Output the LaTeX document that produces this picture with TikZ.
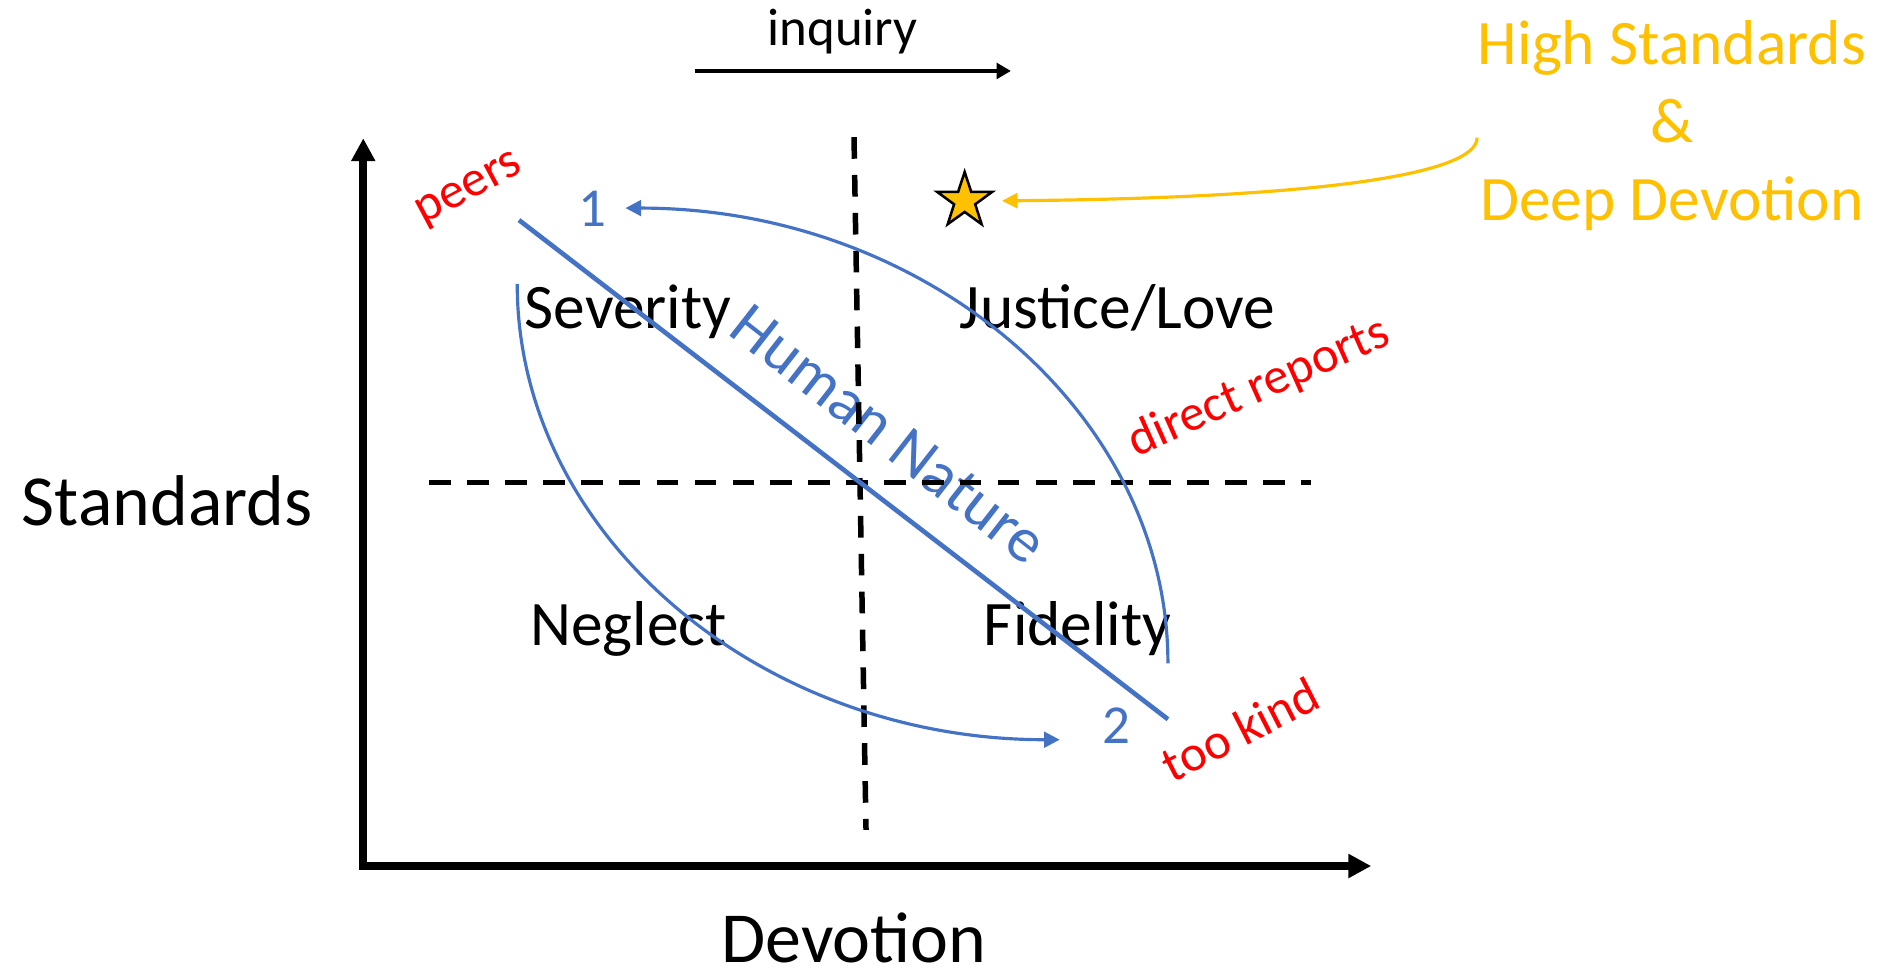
\documentclass[tikz,border=0pt]{standalone}
\usepackage{fontspec}
\setmainfont{Carlito}
\usepackage{tikz}
\usetikzlibrary{arrows.meta,shapes.geometric,positioning}
\definecolor{hnblue}{HTML}{4472C4}
\definecolor{gold}{HTML}{FFC000}
\newcommand{\redlbl}{\textcolor{red}}

\begin{document}
\begin{tikzpicture}[
    axis/.style={line width=1.8pt, line join=miter, {Triangle[length=0.19cm,width=0.19cm]}-{Triangle[length=0.19cm,width=0.19cm]}},
    divider/.style={line width=1.3pt, dash pattern=on 0.18cm off 0.135cm},
    swing/.style={hnblue, line width=0.75pt, -{Triangle[length=0.13cm,width=0.13cm]}},
    quad/.style={font=\fontsize{15}{18}\selectfont, anchor=base},
    tag/.style={font=\fontsize{12}{14}\selectfont},
    num/.style={hnblue, font=\fontsize{13}{15}\selectfont}]
\useasboundingbox (0,0) rectangle (15.68,8.06);

\node[font=\fontsize{17}{20}\selectfont, anchor=base] (stdlbl) at (1.39,3.69) {Standards};
\node[font=\fontsize{17}{20}\selectfont, anchor=base] (devlbl) at (7.10,0.06) {Devotion};
\node[font=\fontsize{12.5}{15}\selectfont, anchor=base] (inq) at (7.005,7.68) {inquiry};
% base anchor sits on the last line here
\node[gold, font=\fontsize{15}{18.35}\selectfont, align=center, anchor=base, inner sep=0pt] (goal) at (13.90,6.23) {High Standards\\\&\\Deep Devotion};

\node[quad] (sev) at (5.22,5.33) {Severity};
\node[quad] (jus) at (9.29,5.33) {Justice/Love};
\node[quad] (neg) at (5.225,2.69) {Neglect};
\node[quad] (fid) at (8.96,2.69) {Fidelity};

\node[tag, rotate=28] (peers) at (3.91,6.475) {\redlbl{peers}};
\node[tag, rotate=24] (direct) at (10.465,4.835) {\redlbl{direct reports}};
\node[tag, rotate=27] (kind) at (10.31,1.995) {\redlbl{too kind}};
\node[num] (one) at (4.925,6.32) {1};
\node[num] (two) at (9.28,2.03) {2};
\node[hnblue, font=\fontsize{15}{18}\selectfont, rotate=-38] (hn) at (7.39,4.45) {Human Nature};

\node[star, star points=5, star point ratio=2.6, minimum size=0.48cm, inner sep=0pt,
      fill=gold, draw=black, line width=0.6pt] (star) at (8.02,6.39) {};

\coordinate (origin) at (3.02,0.86);
\coordinate (ytop) at (3.02,6.91);
\coordinate (xend) at (11.40,0.86);
\coordinate (inqA) at (5.78,7.47);
\coordinate (inqB) at (8.405,7.47);
\coordinate (vtop) at (7.10,6.92);
\coordinate (vbot) at (7.20,1.16);
\coordinate (hleft) at (3.57,4.05);
\coordinate (hright) at (10.90,4.05);
\coordinate (hnhi) at (4.315,6.23);
\coordinate (hnlo) at (9.71,2.08);
\coordinate (upfrom) at (9.71,2.545);
\coordinate (upto) at (5.20,6.33);
\coordinate (downfrom) at (4.30,5.70);
\coordinate (downto) at (8.81,1.91);

\draw[axis] (ytop) -- (origin) -- (xend);
\draw[line width=0.9pt, -{Triangle[length=0.12cm,width=0.13cm]}] (inqA) -- (inqB);
\draw[divider] (vtop) -- (vbot);
\draw[divider] (hleft) -- (hright);
\draw[hnblue, line width=1.1pt] (hnhi) -- (hnlo);
\draw[swing] (upfrom) .. controls (9.71,4.634) and (7.69,6.33) .. (upto);
\draw[swing] (downfrom) .. controls (4.30,3.61) and (6.32,1.91) .. (downto);
\draw[gold, line width=0.75pt, -{Triangle[length=0.13cm,width=0.125cm]}]
    ([yshift=-0.1cm]goal.west) .. controls +(0,-0.30) and +(2.68,0.025) .. ([xshift=0.165cm]star.east);
\end{tikzpicture}
\end{document}
